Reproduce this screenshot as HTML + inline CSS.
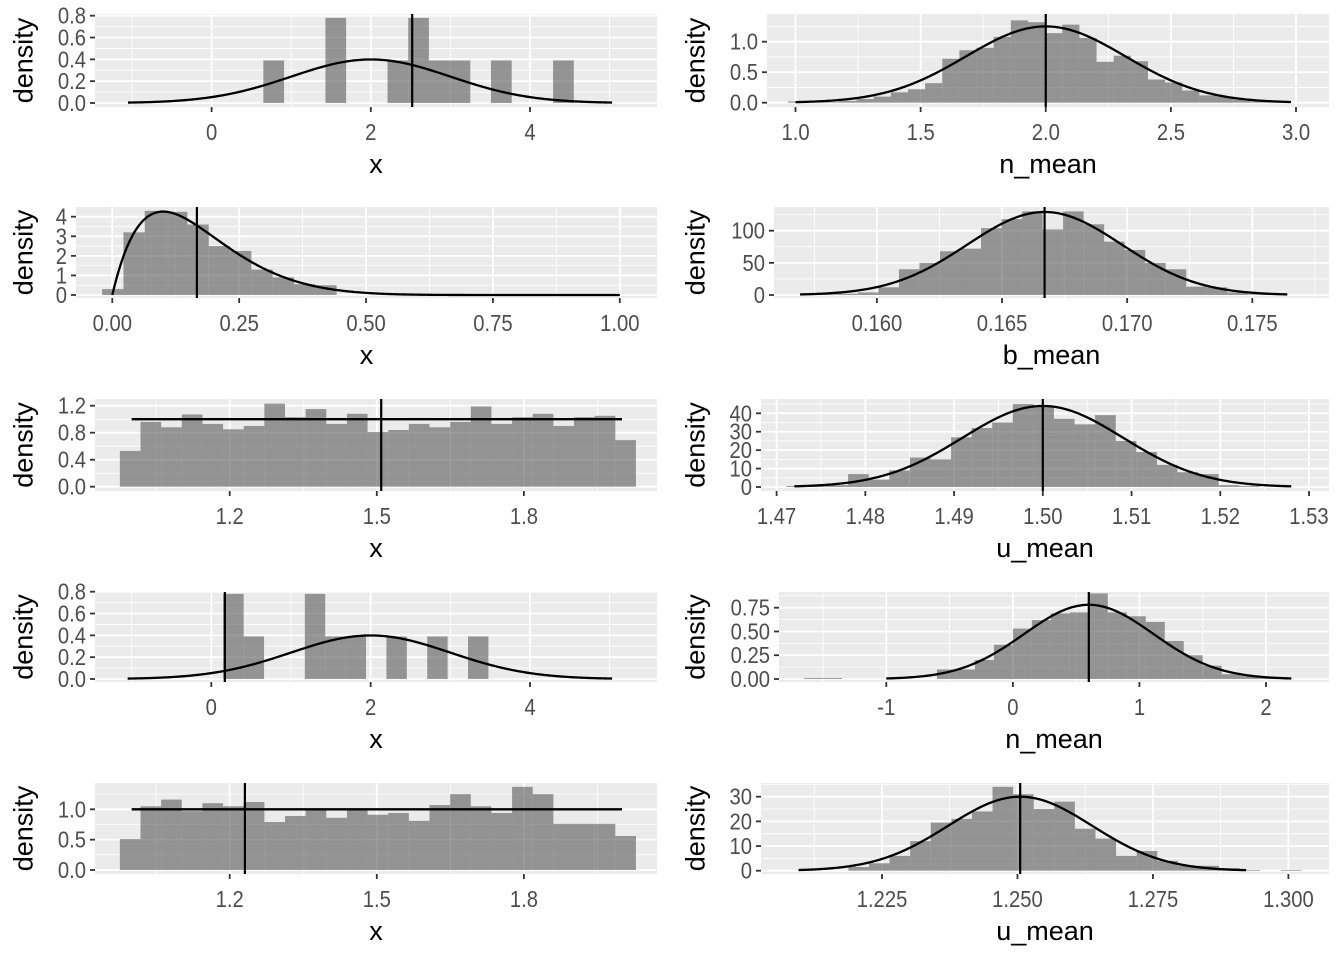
<!DOCTYPE html>
<html><head><meta charset="utf-8"><style>
html,body{margin:0;padding:0;background:#fff;}
svg{display:block;font-family:"Liberation Sans",Arial,sans-serif;}
</style></head><body>
<svg id="chart" width="1344" height="960" viewBox="0 0 1344 960" xmlns="http://www.w3.org/2000/svg"></svg>
<script>
// ---- data arrays ----
const p1Heights = [0.39,0,0,0.78,0,0,0.39,0.78,0.39,0.39,0,0.39,0,0,0.39];
const p1XTicks = [0,2,4];
const p1XLabels = ["0","2","4"];
const p1YTicks = [0,0.2,0.4,0.6,0.8];
const p1YLabels = ["0.0","0.2","0.4","0.6","0.8"];

const p2Heights = [0.02,0,0.01,0.03,0.06,0.1,0.17,0.22,0.32,0.72,0.86,0.9,1.08,1.35,1.32,1.14,1.28,1.06,0.67,0.77,0.68,0.38,0.33,0.2,0.12,0.1,0.05,0.02,0.01,0];
const p2XTicks = [1,1.5,2,2.5,3];
const p2XLabels = ["1.0","1.5","2.0","2.5","3.0"];
const p2YTicks = [0,0.5,1];
const p2YLabels = ["0.0","0.5","1.0"];

const p3Heights = [0.3,3.2,4.3,4.25,3.6,2.5,2.25,1.3,0.9,0.55,0.5,0,0,0,0,0,0,0,0,0,0,0,0,0];
const p3XTicks = [0,0.25,0.5,0.75,1];
const p3XLabels = ["0.00","0.25","0.50","0.75","1.00"];
const p3YTicks = [0,1,2,3,4];
const p3YLabels = ["0","1","2","3","4"];

const p4Heights = [1,2,4,12,40,50,68,72,104,118,130,102,130,110,83,70,50,40,13,12,4,1];
const p4XTicks = [0.160,0.165,0.170,0.175];
const p4XLabels = ["0.160","0.165","0.170","0.175"];
const p4YTicks = [0,50,100];
const p4YLabels = ["0","50","100"];

const p5Heights = [0.53,0.96,0.88,1.07,0.93,0.85,0.90,1.23,1.03,1.15,0.93,1.08,0.81,0.84,0.93,0.88,0.96,1.19,0.93,1.03,1.08,0.90,1.03,1.05,0.69];
const p5XTicks = [1.2,1.5,1.8];
const p5XLabels = ["1.2","1.5","1.8"];
const p5YTicks = [0,0.4,0.8,1.2];
const p5YLabels = ["0.0","0.4","0.8","1.2"];

const p6Heights = [0.5,0.5,1,7,4,9,16,15,27,32,35,45,44,37,34,39,25,19,12,8,7,1,0.5];
const p6XTicks = [1.47,1.48,1.49,1.50,1.51,1.52,1.53];
const p6XLabels = ["1.47","1.48","1.49","1.50","1.51","1.52","1.53"];
const p6YTicks = [0,10,20,30,40];
const p6YLabels = ["0","10","20","30","40"];

const p7Heights = [0.78,0.39,0,0,0.78,0.39,0.39,0,0.39,0,0.39,0,0.39];
const p7XTicks = [0,2,4];
const p7XLabels = ["0","2","4"];
const p7YTicks = [0,0.2,0.4,0.6,0.8];
const p7YLabels = ["0.0","0.2","0.4","0.6","0.8"];

const p8Heights = [0.01,0.01,0,0,0,0,0,0.1,0.1,0.2,0.36,0.53,0.62,0.69,0.70,0.9,0.70,0.66,0.60,0.40,0.25,0.14,0.05,0.03,0.01];
const p8XTicks = [-1,0,1,2];
const p8XLabels = ["-1","0","1","2"];
const p8YTicks = [0,0.25,0.5,0.75];
const p8YLabels = ["0.00","0.25","0.50","0.75"];

const p9Heights = [0.51,1.05,1.16,0.97,1.10,1.05,1.12,0.79,0.89,0.99,0.86,0.99,0.91,0.94,0.81,1.07,1.25,1.05,0.94,1.37,1.25,0.76,0.76,0.76,0.56];
const p9XTicks = [1.2,1.5,1.8];
const p9XLabels = ["1.2","1.5","1.8"];
const p9YTicks = [0,0.5,1];
const p9YLabels = ["0.0","0.5","1.0"];

const p10Heights = [1.5,3,6,12,19.5,21,24,34,31,25,28,17,13,6,8,4,2,2,1,0.3,0,0.3];
const p10XTicks = [1.225,1.25,1.275,1.3];
const p10XLabels = ["1.225","1.250","1.275","1.300"];
const p10YTicks = [0,10,20,30];
const p10YLabels = ["0","10","20","30"];

// ---- panel configs (geometry + references to data) ----
const panels = [
 {id:"p1",title:"x",heights:p1Heights,binStart:0.65,binWidth:0.26,xt:p1XTicks,xl:p1XLabels,yt:p1YTicks,yl:p1YLabels,
  vline:2.52,curve:{type:"norm",m:2,s:1,from:-1.05,to:5.03},
  L:95,R:657,T:14,B:107,xc:[0,211.6,4,530],yc:[0,103,0.8,15.7],ytx:23.6},
 {id:"p2",title:"n_mean",heights:p2Heights,binStart:0.97,binWidth:0.0685,xt:p2XTicks,xl:p2XLabels,yt:p2YTicks,yl:p2YLabels,
  vline:2.0,curve:{type:"norm",m:2,s:0.319,from:1.0,to:2.98},
  L:767,R:1329,T:14,B:107,xc:[1,795.5,3,1296],yc:[0,102.7,1,41.7],ytx:695.6},
 {id:"p3",title:"x",heights:p3Heights,binStart:-0.02,binWidth:0.042,xt:p3XTicks,xl:p3XLabels,yt:p3YTicks,yl:p3YLabels,
  vline:0.1667,curve:{type:"beta",a:2,b:10,from:0,to:1},
  L:76,R:657,T:207,B:298,xc:[0,112.3,1,619.8],yc:[0,295,4,216.7],ytx:23.6},
 {id:"p4",title:"b_mean",heights:p4Heights,binStart:0.1576,binWidth:0.00082,xt:p4XTicks,xl:p4XLabels,yt:p4YTicks,yl:p4YLabels,
  vline:0.1667,curve:{type:"norm",m:0.1667,s:0.00309,from:0.15693,to:0.1764},
  L:774,R:1329,T:207,B:298,xc:[0.160,876.9,0.175,1252.3],yc:[0,295,100,230.7],ytx:695.6},
 {id:"p5",title:"x",heights:p5Heights,binStart:0.976,binWidth:0.0421,xt:p5XTicks,xl:p5XLabels,yt:p5YTicks,yl:p5YLabels,
  vline:1.509,curve:{type:"unif",from:1.0,to:2.0},
  L:95,R:657,T:399,B:491,xc:[1.2,229.7,1.8,523.9],yc:[0,486.7,1.2,405.7],ytx:23.6},
 {id:"p6",title:"u_mean",heights:p6Heights,binStart:1.4711,binWidth:0.00232,xt:p6XTicks,xl:p6XLabels,yt:p6YTicks,yl:p6YLabels,
  vline:1.5,curve:{type:"norm",m:1.5,s:0.00907,from:1.472,to:1.528},
  L:761,R:1329,T:399,B:491,xc:[1.47,776.6,1.53,1309],yc:[0,487,40,413.3],ytx:695.6},
 {id:"p7",title:"x",heights:p7Heights,binStart:0.15,binWidth:0.256,xt:p7XTicks,xl:p7XLabels,yt:p7YTicks,yl:p7YLabels,
  vline:0.17,curve:{type:"norm",m:2,s:1,from:-1.05,to:5.03},
  L:95,R:657,T:592,B:682,xc:[0,211.3,4,530],yc:[0,679,0.8,591.7],ytx:23.6},
 {id:"p8",title:"n_mean",heights:p8Heights,binStart:-1.65,binWidth:0.15,xt:p8XTicks,xl:p8XLabels,yt:p8YTicks,yl:p8YLabels,
  vline:0.6,curve:{type:"norm",m:0.6,s:0.511,from:-1,to:2.2},
  L:779,R:1329,T:592,B:682,xc:[-1,886.3,2,1266],yc:[0,679,0.75,607.7],ytx:695.6},
 {id:"p9",title:"x",heights:p9Heights,binStart:0.976,binWidth:0.0421,xt:p9XTicks,xl:p9XLabels,yt:p9YTicks,yl:p9YLabels,
  vline:1.231,curve:{type:"unif",from:1.0,to:2.0},
  L:95,R:657,T:783,B:874,xc:[1.2,229.7,1.8,523.9],yc:[0,870,1,809.3],ytx:23.6},
 {id:"p10",title:"u_mean",heights:p10Heights,binStart:1.2188,binWidth:0.0038,xt:p10XTicks,xl:p10XLabels,yt:p10YTicks,yl:p10YLabels,
  vline:1.2505,curve:{type:"norm",m:1.2505,s:0.0133,from:1.2096,to:1.2922},
  L:761,R:1329,T:783,B:874,xc:[1.225,882,1.3,1288.4],yc:[0,870.7,30,796.7],ytx:695.6}
];

const NS = "http://www.w3.org/2000/svg";
const svg = document.getElementById("chart");
function mk(tag, attrs, parent){
  const e = document.createElementNS(NS, tag);
  for (const k in attrs) e.setAttribute(k, attrs[k]);
  (parent||svg).appendChild(e);
  return e;
}
function lgamma(z){
  const g=7,c=[0.99999999999980993,676.5203681218851,-1259.1392167224028,771.32342877765313,-176.61502916214059,12.507343278686905,-0.13857109526572012,9.9843695780195716e-6,1.5056327351493116e-7];
  z-=1; let x=c[0]; for(let i=1;i<g+2;i++) x+=c[i]/(z+i);
  const t=z+g+0.5; return 0.5*Math.log(2*Math.PI)+(z+0.5)*Math.log(t)-t+Math.log(x);
}
function dens(c, x){
  if (c.type==="norm") return Math.exp(-0.5*((x-c.m)/c.s)**2)/(c.s*Math.sqrt(2*Math.PI));
  if (c.type==="beta") { if(x<=0||x>=1) return 0; return Math.exp(lgamma(c.a+c.b)-lgamma(c.a)-lgamma(c.b)+(c.a-1)*Math.log(x)+(c.b-1)*Math.log(1-x)); }
  return 1/(c.to-c.from);
}

panels.forEach(p=>{
  const sx = v => p.xc[1] + (v-p.xc[0])*(p.xc[3]-p.xc[1])/(p.xc[2]-p.xc[0]);
  const sy = v => p.yc[1] + (v-p.yc[0])*(p.yc[3]-p.yc[1])/(p.yc[2]-p.yc[0]);
  const inv = px => p.xc[0] + (px-p.xc[1])*(p.xc[2]-p.xc[0])/(p.xc[3]-p.xc[1]);
  const invy = py => p.yc[0] + (py-p.yc[1])*(p.yc[2]-p.yc[0])/(p.yc[3]-p.yc[1]);
  const g = mk("g", {});
  
  
  const bg = mk("rect",{x:p.L,y:p.T,width:p.R-p.L,height:p.B-p.T,fill:"#EBEBEB"},g);
  
  
  const xs = p.xt[1]-p.xt[0], ys = p.yt[1]-p.yt[0];
  const xlo = Math.min(inv(p.L),inv(p.R)), xhi=Math.max(inv(p.L),inv(p.R));
  for (let m=p.xt[0]-xs*Math.ceil((p.xt[0]-xlo)/xs)-xs/2; m<=xhi; m+=xs){
    const px=sx(m); if(px<p.L||px>p.R) continue;
    mk("line",{x1:px,x2:px,y1:p.T,y2:p.B,stroke:"#fff","stroke-width":0.8},g);
  }
  const ylo = invy(p.B), yhi = invy(p.T);
  for (let m=p.yt[0]-ys*Math.ceil((p.yt[0]-ylo)/ys)-ys/2; m<=yhi; m+=ys){
    const py=sy(m); if(py<p.T||py>p.B) continue;
    mk("line",{x1:p.L,x2:p.R,y1:py,y2:py,stroke:"#fff","stroke-width":0.8},g);
  }
  p.xt.forEach(v=>{ const px=sx(v); if(px>=p.L&&px<=p.R) mk("line",{x1:px,x2:px,y1:p.T,y2:p.B,stroke:"#fff","stroke-width":1.8},g); });
  p.yt.forEach(v=>{ const py=sy(v); mk("line",{x1:p.L,x2:p.R,y1:py,y2:py,stroke:"#fff","stroke-width":1.8},g); });
  p.heights.forEach((h,i)=>{
    if (h<=0) return;
    const x0=sx(p.binStart+i*p.binWidth), x1=sx(p.binStart+(i+1)*p.binWidth);
    const r = mk("rect",{x:x0,y:sy(h),width:x1-x0,height:sy(0)-sy(h),fill:"#595959","fill-opacity":0.6},g);
    
    
  });
  const c=p.curve; let d="";
  if (c.type==="unif"){ d=`M${sx(c.from)},${sy(dens(c,0))}L${sx(c.to)},${sy(dens(c,0))}`; }
  else { for(let i=0;i<=300;i++){ const x=c.from+(c.to-c.from)*i/300; d+=(i?"L":"M")+sx(x).toFixed(2)+","+sy(dens(c,x)).toFixed(2);} }
  const cp = mk("path",{d:d,fill:"none",stroke:"#000","stroke-width":2.3},g);
  
  
  const vl = mk("line",{x1:sx(p.vline),x2:sx(p.vline),y1:p.T,y2:p.B,stroke:"#000","stroke-width":2.2},g);
  
  
  p.xt.forEach((v,i)=>{
    const px=sx(v);
    mk("line",{x1:px,x2:px,y1:p.B,y2:p.B+5,stroke:"#333","stroke-width":1.8},g);
    const t=mk("text",{x:0,y:0,"text-anchor":"middle","font-size":23,fill:"#4D4D4D",transform:`translate(${px},${p.B+33}) scale(0.88,1)`},g);
    t.textContent=p.xl[i];
    
    
  });
  p.yt.forEach((v,i)=>{
    const py=sy(v);
    mk("line",{x1:p.L-5,x2:p.L,y1:py,y2:py,stroke:"#333","stroke-width":1.8},g);
    const t=mk("text",{x:0,y:0,"text-anchor":"end","font-size":23,fill:"#4D4D4D",transform:`translate(${p.L-9},${py+8}) scale(0.88,1)`},g);
    t.textContent=p.yl[i];
    
    
  });
  const xt=mk("text",{x:(p.L+p.R)/2,y:p.B+66,"text-anchor":"middle","font-size":27,fill:"#000"},g);
  xt.textContent=p.title;
  
  
  const cy=(p.T+p.B)/2;
  const yt=mk("text",{x:p.ytx+9,y:cy,"text-anchor":"middle","font-size":27,fill:"#000",transform:`rotate(-90 ${p.ytx+9} ${cy})`},g);
  yt.textContent="density";
  
  
});
</script>
</body></html>
